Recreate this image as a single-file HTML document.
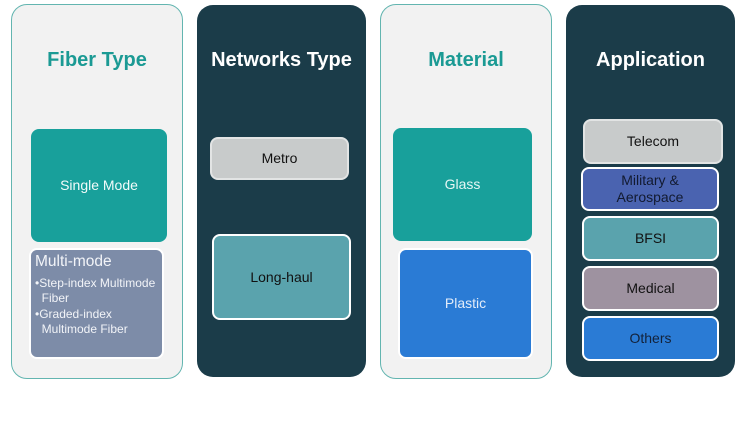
<!DOCTYPE html>
<html>
<head>
<meta charset="utf-8">
<style>
  html, body { margin:0; padding:0; background:#ffffff; }
  body { width:755px; height:434px; position:relative; overflow:hidden;
         font-family:"Liberation Sans", "DejaVu Sans", sans-serif; }
  .panel { position:absolute; box-sizing:border-box; border-radius:16px; }
  .light { background:#f2f2f2; border:1px solid #63b5b0; }
  .dark { background:#1b3c49; }
  .title { position:absolute; left:0; right:0; text-align:center; font-weight:bold; font-size:20px; }
  .box { position:absolute; box-sizing:border-box; border-radius:8px;
         display:flex; align-items:center; justify-content:center; text-align:center;
         font-size:14px; line-height:17px; }
</style>
</head>
<body>

<!-- Panel 1: Fiber Type -->
<div class="panel light" style="left:11px; top:4px; width:172px; height:375px;"></div>
<div class="title" style="left:11px; width:172px; top:49px; color:#1b9a94;">Fiber Type</div>
<div class="box" style="left:31px; top:129px; width:136px; height:113px; background:#18a09b; color:#f2fbfa;">Single Mode</div>
<div class="box" style="left:29px; top:248px; width:135px; height:111px; background:#7d8ca8; border:2px solid #ffffff; display:block; text-align:left; color:#f2f4f8;">
  <div style="position:absolute; left:4px; top:3px; font-size:15.5px; line-height:18px;">Multi-mode</div>
  <div style="position:absolute; left:4px; top:26px; font-size:12px; line-height:15.3px; white-space:nowrap;">
    •Step-index Multimode<br>&nbsp;&nbsp;Fiber<br>•Graded-index<br>&nbsp;&nbsp;Multimode Fiber
  </div>
</div>

<!-- Panel 2: Networks Type -->
<div class="panel dark" style="left:197px; top:5px; width:169px; height:372px;"></div>
<div class="title" style="left:197px; width:169px; top:49px; color:#ffffff;">Networks Type</div>
<div class="box" style="left:210px; top:137px; width:139px; height:43px; background:#c8cbcb; border:2px solid #e2e4e4; color:#111;">Metro</div>
<div class="box" style="left:212px; top:234px; width:139px; height:86px; background:#5aa3ad; border:2px solid #ffffff; color:#111;">Long-haul</div>

<!-- Panel 3: Material -->
<div class="panel light" style="left:380px; top:4px; width:172px; height:375px;"></div>
<div class="title" style="left:380px; width:172px; top:49px; color:#1b9a94;">Material</div>
<div class="box" style="left:393px; top:128px; width:139px; height:113px; background:#18a09b; color:#e6f7f5;">Glass</div>
<div class="box" style="left:398px; top:248px; width:135px; height:111px; background:#2a7bd5; border:2px solid #ffffff; color:#e2ecf9;">Plastic</div>

<!-- Panel 4: Application -->
<div class="panel dark" style="left:566px; top:5px; width:169px; height:372px;"></div>
<div class="title" style="left:566px; width:169px; top:49px; color:#ffffff;">Application</div>
<div class="box" style="left:583px; top:119px; width:140px; height:45px; background:#c8cbcb; border:2px solid #e2e4e4; color:#111;">Telecom</div>
<div class="box" style="left:581px; top:167px; width:138px; height:44px; background:#4a63b0; border:2px solid #ffffff; color:#121a30;">Military &amp;<br>Aerospace</div>
<div class="box" style="left:582px; top:216px; width:137px; height:45px; background:#5aa3ad; border:2px solid #ffffff; color:#111;">BFSI</div>
<div class="box" style="left:582px; top:266px; width:137px; height:45px; background:#9e92a0; border:2px solid #ffffff; color:#111;">Medical</div>
<div class="box" style="left:582px; top:316px; width:137px; height:45px; background:#2a7bd5; border:2px solid #ffffff; color:#13223a;">Others</div>

</body>
</html>
